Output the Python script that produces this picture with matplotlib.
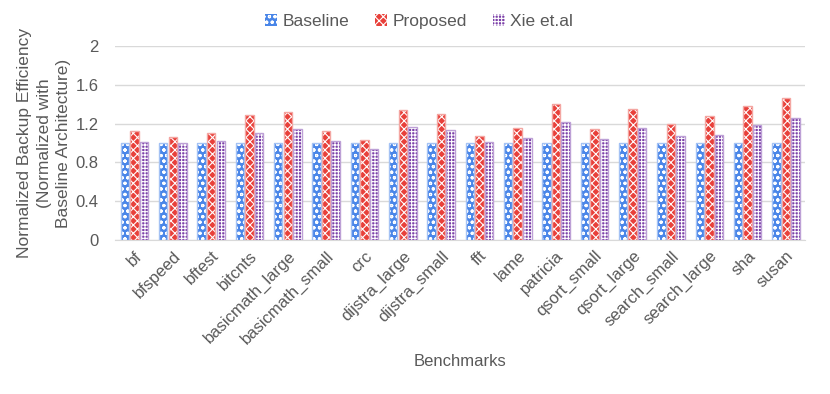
import matplotlib
matplotlib.use("Agg")
import matplotlib.pyplot as plt
import numpy as np

categories = ["bf", "bfspeed", "bftest", "bitcnts", "basicmath_large", "basicmath_small",
              "crc", "dijstra_large", "dijstra_small", "fft", "lame", "patricia",
              "qsort_small", "qsort_large", "search_small", "search_large", "sha", "susan"]
baseline = [1.0] * 18
proposed = [1.12, 1.06, 1.10, 1.29, 1.32, 1.12, 1.03, 1.34, 1.30, 1.07, 1.15, 1.40,
            1.14, 1.35, 1.20, 1.28, 1.38, 1.46]
xie = [1.01, 1.00, 1.02, 1.10, 1.14, 1.02, 0.94, 1.17, 1.13, 1.01, 1.05, 1.22,
       1.04, 1.16, 1.07, 1.08, 1.19, 1.26]
series_names = ["Baseline", "Proposed", "Xie et.al"]
yticks = [0, 0.4, 0.8, 1.2, 1.6, 2]

plt.rcParams['font.family'] = ['Liberation Sans', 'DejaVu Sans']
plt.rcParams['hatch.linewidth'] = 0.8
gray = "#595959"

fig = plt.figure(figsize=(8.3, 3.94), dpi=100)
ax = fig.add_axes([0.139, 0.391, 0.831, 0.492])

x = np.arange(len(categories))
w = 0.22
specs = [
    (baseline, "#4a86e8", "#a4c2f4", "ooo"),
    (proposed, "#e8403a", "#f4a6a2", "xxxx"),
    (xie, "#7b3fa8", "#bda0d6", "+++++"),
]
handles = []
for i, (vals, fc, ec, hatch) in enumerate(specs):
    pos = x + (i - 1) * (w + 0.03)
    ax.bar(pos, vals, width=w, color=fc, edgecolor="white", hatch=hatch, linewidth=0, zorder=3)
    ax.bar(pos, vals, width=w, facecolor="none", edgecolor=ec, linewidth=1.0, zorder=4)
    h = ax.bar([np.nan], [np.nan], color=fc, edgecolor="white", hatch=hatch, linewidth=0)
    handles.append(h)

ax.set_ylim(0, 2)
ax.set_xlim(-0.5, len(categories) - 0.5)
ax.set_yticks(yticks)
ax.set_yticklabels(["0", "0.4", "0.8", "1.2", "1.6", "2"])
ax.yaxis.grid(True, color="#d9d9d9", linewidth=1, zorder=0)
ax.set_axisbelow(True)
for s in ["top", "right", "left"]:
    ax.spines[s].set_visible(False)
ax.spines["bottom"].set_color("#d9d9d9")
ax.tick_params(axis="y", length=0, labelsize=12, colors=gray, pad=12)
ax.tick_params(axis="x", length=0, labelsize=12, colors=gray, pad=6)
ax.set_xticks(x)
ax.set_xticklabels(categories, rotation=45, ha="right", rotation_mode="anchor")
ax.set_ylabel("Normalized Backup Efficiency\n(Normalized with\nBaseline Architecture)",
              fontsize=12.5, color=gray, labelpad=3, linespacing=1.4)
ax.set_xlabel("Benchmarks", fontsize=12, color=gray, labelpad=5)

fig.legend(handles, series_names, loc="upper center", bbox_to_anchor=(0.505, 1.005), ncol=3,
           frameon=False, fontsize=12.5, handlelength=0.7, handleheight=0.7,
           handletextpad=0.3, columnspacing=1.5, labelcolor=gray)

fig.savefig("out.png", dpi=100)
